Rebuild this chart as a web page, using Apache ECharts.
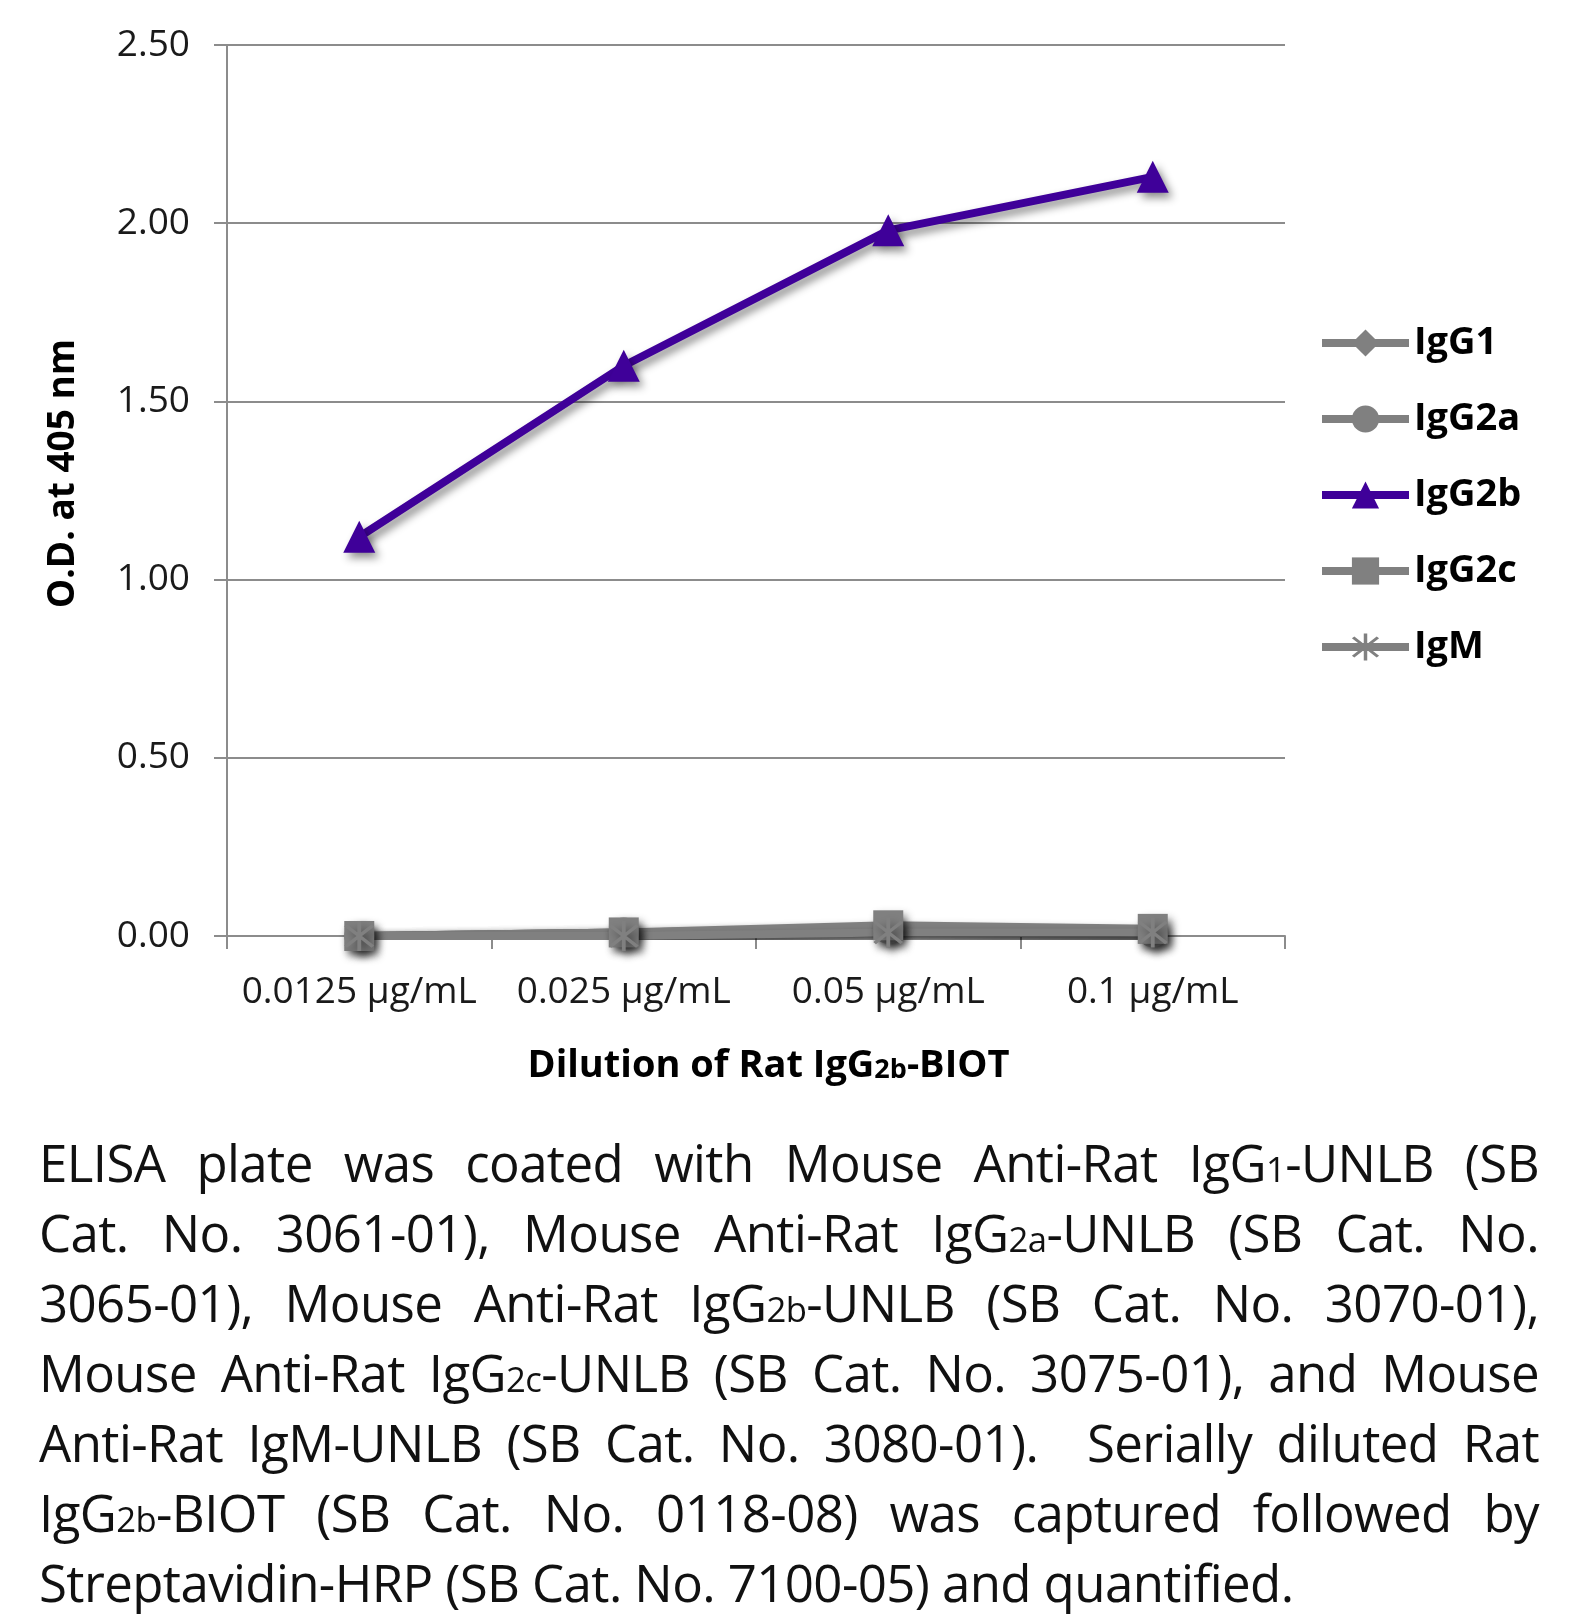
<!DOCTYPE html>
<html>
<head>
<meta charset="utf-8">
<script src="https://cdn.jsdelivr.net/npm/echarts@6/dist/echarts.min.js"></script>
<style>
  html, body { margin: 0; padding: 0; background: #fff; }
  #chart { position: absolute; left: 0; top: 0; width: 1594px; height: 1617px; }
  #caption { position: absolute; left: 39px; top: 1127px; width: 1500px;
    font-family: "Open Sans", "Noto Sans", sans-serif; font-size: 51px; letter-spacing: -0.6px; color: #111; line-height: 70px; }
  #caption div { height: 70px; white-space: nowrap; text-align: justify; text-align-last: justify; }
  #caption div.last { text-align-last: left; }
  #caption span.s { font-size: 0.68em; line-height: 0; }
</style>
</head>
<body>
<div id="chart"></div>
<div id="caption">
  <div>ELISA plate was coated with Mouse Anti-Rat IgG<span class="s">1</span>-UNLB (SB</div>
  <div>Cat. No. 3061-01), Mouse Anti-Rat IgG<span class="s">2a</span>-UNLB (SB Cat. No.</div>
  <div>3065-01), Mouse Anti-Rat IgG<span class="s">2b</span>-UNLB (SB Cat. No. 3070-01),</div>
  <div>Mouse Anti-Rat IgG<span class="s">2c</span>-UNLB (SB Cat. No. 3075-01), and Mouse</div>
  <div>Anti-Rat IgM-UNLB (SB Cat. No. 3080-01).&nbsp; Serially diluted Rat</div>
  <div>IgG<span class="s">2b</span>-BIOT (SB Cat. No. 0118-08) was captured followed by</div>
  <div class="last">Streptavidin-HRP (SB Cat. No. 7100-05) and quantified.</div>
</div>
<script>
const categories = ['0.0125 µg/mL', '0.025 µg/mL', '0.05 µg/mL', '0.1 µg/mL'];
const seriesNames = ['IgG1', 'IgG2a', 'IgG2b', 'IgG2c', 'IgM'];
const igg1 = [0.00, 0.01, 0.02, 0.01];
const igg2a = [0.00, 0.01, 0.02, 0.01];
const igg2b = [1.12, 1.60, 1.98, 2.13];
const igg2c = [0.00, 0.01, 0.03, 0.02];
const igm = [0.00, 0.00, 0.01, 0.01];
const yMin = 0, yMax = 2.5, yStep = 0.5;

const FONT = '"Open Sans", "Noto Sans", sans-serif';
const GRAY = '#808080';
const PURPLE = '#3f0099';
const AXIS = '#8c8c8c';
const asterisk = 'path://M9,0h2v20h-2z M2.2,3.6 L3.6,2.2 L17.8,16.4 L16.4,17.8z M16.4,2.2 L17.8,3.6 L3.6,17.8 L2.2,16.4z';

function mk(name, data, color, symbol, size) {
  return {
    name: name, type: 'line', data: data,
    symbol: symbol, symbolSize: size,
    lineStyle: { color: color, width: 8, shadowColor: 'rgba(0,0,0,0.45)', shadowBlur: 8, shadowOffsetX: 4, shadowOffsetY: 5 },
    itemStyle: { color: color, shadowColor: 'rgba(0,0,0,0.45)', shadowBlur: 8, shadowOffsetX: 4, shadowOffsetY: 5 },
    emphasis: { disabled: true },
    animation: false
  };
}

const chart = echarts.init(document.getElementById('chart'));
chart.setOption({
  backgroundColor: '#fff',
  animation: false,
  textStyle: { fontFamily: FONT },
  grid: { left: 227, right: 309, top: 45, bottom: 681, containLabel: false },
  legend: {
    orient: 'vertical', left: 1313, top: 319,
    itemWidth: 87, itemHeight: 34, itemGap: 38,
    data: seriesNames,
    lineStyle: { width: 8, shadowBlur: 0, shadowOffsetX: 0, shadowOffsetY: 0 },
    itemStyle: { shadowBlur: 0, shadowOffsetX: 0, shadowOffsetY: 0 },
    textStyle: { fontFamily: FONT, fontWeight: 'bold', fontSize: 38, color: '#000' }
  },
  xAxis: {
    type: 'category', data: categories, boundaryGap: true,
    axisLine: { lineStyle: { color: AXIS, width: 2 } },
    axisTick: { show: true, alignWithLabel: false, length: 13, lineStyle: { color: AXIS, width: 2 } },
    axisLabel: { interval: 0, fontFamily: FONT, fontSize: 37, color: '#1a1a1a', margin: 38 },
    name: '{b|Dilution of Rat IgG}{s|2b}{b|-BIOT}',
    nameLocation: 'middle', nameGap: 111,
    nameTextStyle: {
      padding: [0, 0, 0, 25],
      rich: {
        b: { fontFamily: FONT, fontWeight: 'bold', fontSize: 38, color: '#000' },
        s: { fontFamily: FONT, fontWeight: 'bold', fontSize: 27, color: '#000', padding: [8, 0, 0, 0] }
      }
    }
  },
  yAxis: {
    type: 'value', min: yMin, max: yMax, interval: yStep,
    axisLine: { show: true, lineStyle: { color: AXIS, width: 2 } },
    axisTick: { show: true, length: 13, lineStyle: { color: AXIS, width: 2 } },
    splitLine: { show: true, lineStyle: { color: AXIS, width: 2 } },
    axisLabel: { fontFamily: FONT, fontSize: 37, color: '#1a1a1a', margin: 37, formatter: v => v.toFixed(2) },
    name: 'O.D. at 405 nm', nameLocation: 'middle', nameGap: 145, nameRotate: 90,
    nameTextStyle: { fontFamily: FONT, fontWeight: 'bold', fontSize: 37, color: '#000', padding: [0, 0, 0, 34] }
  },
  series: [
    mk('IgG1', igg1, GRAY, 'diamond', 28),
    mk('IgG2a', igg2a, GRAY, 'circle', 30),
    mk('IgG2b', igg2b, PURPLE, 'triangle', 32),
    mk('IgG2c', igg2c, GRAY, 'rect', 30),
    mk('IgM', igm, GRAY, asterisk, 30)
  ]
});
</script>
</body>
</html>
